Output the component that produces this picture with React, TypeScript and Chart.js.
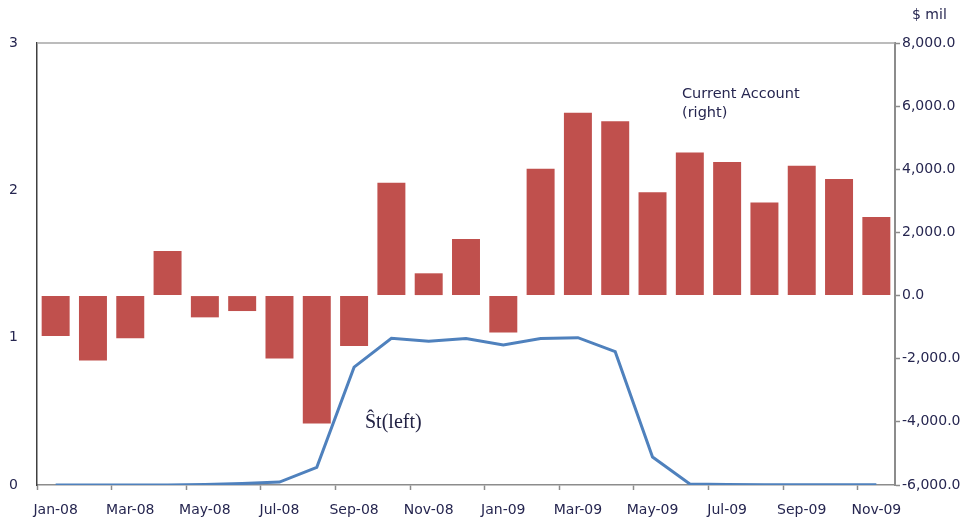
import React, { useEffect, useRef } from "react";
import { Chart, registerables } from "chart.js";

Chart.register(...registerables);

const categories = [
  "Jan-08", "Feb-08", "Mar-08", "Apr-08", "May-08", "Jun-08", "Jul-08", "Aug-08",
  "Sep-08", "Oct-08", "Nov-08", "Dec-08", "Jan-09", "Feb-09", "Mar-09", "Apr-09",
  "May-09", "Jun-09", "Jul-09", "Aug-09", "Sep-09", "Oct-09", "Nov-09",
];

const currentAccount = [
  -1280, -2060, -1350, 1410, -690, -490, -1990, -4050, -1600, 3570, 705, 1790,
  -1170, 4020, 5790, 5520, 3270, 4530, 4230, 2950, 4110, 3690, 2490,
];

const stLeft = [
  0, 0, 0, 0, 0.003, 0.01, 0.02, 0.12, 0.8, 0.996, 0.975, 0.995,
  0.95, 0.995, 1.0, 0.905, 0.19, 0.007, 0.003, 0.001, 0.001, 0.001, 0.001,
];

const leftTicks = [0, 1, 2, 3];
const rightTicks = [-6000, -4000, -2000, 0, 2000, 4000, 6000, 8000];

const TEXT = "#262650";
const FONT = "'DejaVu Sans', sans-serif";

const annotations = {
  id: "annotations",
  afterDraw(chart: any) {
    const { ctx, chartArea } = chart;
    ctx.save();
    // top border of plot area
    ctx.strokeStyle = "#a6a6a6";
    ctx.lineWidth = 1.5;
    ctx.beginPath();
    ctx.moveTo(chartArea.left, chartArea.top);
    ctx.lineTo(chartArea.right, chartArea.top);
    ctx.stroke();

    ctx.fillStyle = TEXT;
    ctx.textBaseline = "alphabetic";
    ctx.textAlign = "left";
    ctx.font = `14.5px ${FONT}`;
    ctx.fillText("Current Account", 682, 98);
    ctx.fillText("(right)", 682, 117);
    ctx.font = `14px ${FONT}`;
    ctx.fillText("$ mil", 912, 19);
    ctx.font = `20px 'Liberation Serif', serif`;
    ctx.fillStyle = "#222244";
    ctx.fillText("Ŝt(left)", 365, 428);
    ctx.restore();
  },
};

export default function App() {
  const ref = useRef<HTMLCanvasElement | null>(null);

  useEffect(() => {
    document.body.style.margin = "0";
    if (!ref.current) return;
    const chart = new Chart(ref.current, {
      type: "bar",
      data: {
        labels: categories,
        datasets: [
          {
            type: "line",
            label: "St (left)",
            data: stLeft,
            yAxisID: "y",
            borderColor: "#4F81BD",
            borderWidth: 3,
            pointRadius: 0,
            tension: 0,
            order: 0,
          } as any,
          {
            type: "bar",
            label: "Current Account (right)",
            data: currentAccount,
            yAxisID: "y1",
            backgroundColor: "#C0504D",
            borderWidth: 0,
            categoryPercentage: 1,
            barPercentage: 0.75,
            order: 1,
          } as any,
        ],
      },
      options: {
        animation: false,
        responsive: false,
        layout: { padding: { left: 0, right: 0, top: 43, bottom: 0 } },
        plugins: { legend: { display: false }, tooltip: { enabled: false } },
        scales: {
          x: {
            type: "category",
            offset: true,
            grid: {
              offset: true,
              drawOnChartArea: false,
              drawTicks: true,
              tickLength: 5,
              tickColor: (c: any) => (c.index % 2 === 0 ? "#8c8c8c" : "rgba(0,0,0,0)"),
              tickWidth: 1.5,
            },
            border: { color: "#8c8c8c", width: 1.5 },
            ticks: {
              autoSkip: false,
              maxRotation: 0,
              minRotation: 0,
              padding: 12,
              color: TEXT,
              font: { family: FONT, size: 14 },
              callback: (_v: any, i: number) => (i % 2 === 0 ? categories[i] : ""),
            },
            afterFit: (s: any) => { s.height = 34; },
          },
          y: {
            position: "left",
            min: 0,
            max: 3,
            afterBuildTicks: (s: any) => { s.ticks = leftTicks.map((v) => ({ value: v })); },
            grid: {
              drawTicks: false,
              drawOnChartArea: false,
            },
            border: { color: "#404040", width: 1.5 },
            ticks: {
              padding: 19,
              color: TEXT,
              font: { family: FONT, size: 14 },
            },
            afterFit: (s: any) => { s.width = 37; },
          },
          y1: {
            position: "right",
            min: -6000,
            max: 8000,
            afterBuildTicks: (s: any) => { s.ticks = rightTicks.map((v) => ({ value: v })); },
            grid: {
              drawOnChartArea: false,
              drawTicks: true,
              tickLength: 5,
              tickColor: "#8c8c8c",
              tickWidth: 1.5,
            },
            border: { color: "#8c8c8c", width: 2 },
            ticks: {
              padding: 2,
              color: TEXT,
              font: { family: FONT, size: 14 },
              callback: (v: any) =>
                Number(v).toLocaleString("en-US", { minimumFractionDigits: 1, maximumFractionDigits: 1 }),
            },
            afterFit: (s: any) => { s.width = 71; },
          },
        },
      },
      plugins: [annotations],
    });
    return () => chart.destroy();
  }, []);

  return (
    <div style={{ width: 966, height: 519, background: "#fff" }}>
      <canvas ref={ref} width={966} height={519} style={{ display: "block" }} />
    </div>
  );
}
